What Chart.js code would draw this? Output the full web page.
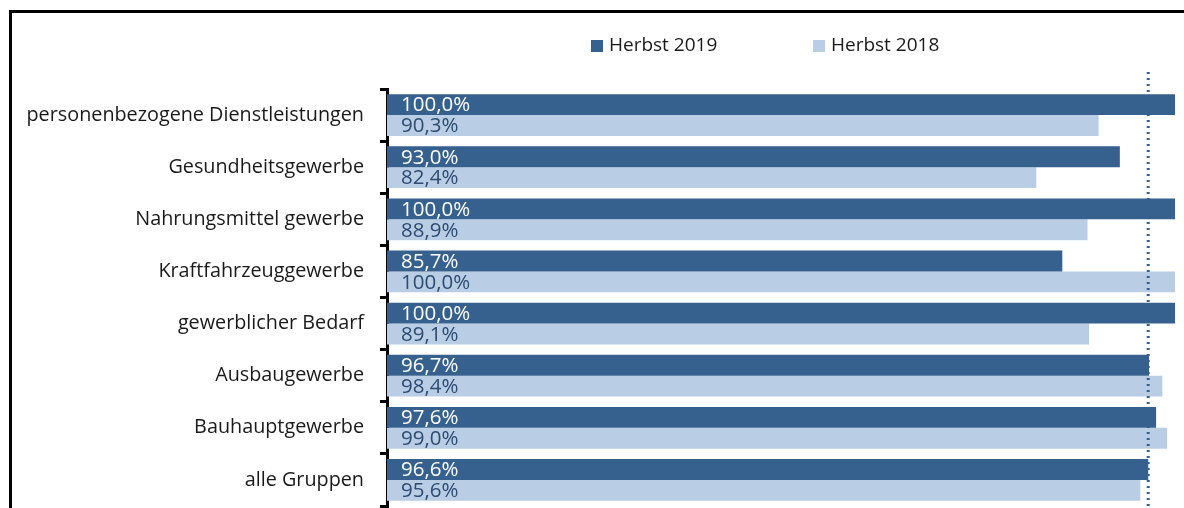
<!DOCTYPE html>
<html>
<head>
<meta charset="utf-8">
<script src="https://cdn.jsdelivr.net/npm/chart.js@4.4.1/dist/chart.umd.min.js"></script>
<style>
html,body{margin:0;padding:0;background:#fff;}
#wrap{position:relative;width:1184px;height:508px;overflow:hidden;}
#frame{position:absolute;left:9px;top:10px;width:1200px;height:520px;border-left:3px solid #000;border-top:3px solid #000;}
#c{position:absolute;left:0;top:0;}
</style>
</head>
<body>
<div id="wrap">
<div id="frame"></div>
<canvas id="c" width="1184" height="508"></canvas>
</div>
<script>
// categories and values
var categories = ['personenbezogene Dienstleistungen','Gesundheitsgewerbe','Nahrungsmittel gewerbe','Kraftfahrzeuggewerbe','gewerblicher Bedarf','Ausbaugewerbe','Bauhauptgewerbe','alle Gruppen'];
var herbst2019 = [100.0, 93.0, 100.0, 85.7, 100.0, 96.7, 97.6, 96.6];
var herbst2018 = [90.3, 82.4, 88.9, 100.0, 89.1, 98.4, 99.0, 95.6];
var seriesNames = ['Herbst 2019', 'Herbst 2018'];
var refLine = herbst2019[7]; // dotted line = alle Gruppen 2019

var darkBlue = '#36618f';
var lightBlue = '#b9cee5';
var font = "'Open Sans', sans-serif";

function fmt(v){ return v.toFixed(1).replace('.', ',') + '%'; }

// value labels inside the bars, at the bar start
var valueLabels = {
  id: 'valueLabels',
  afterDatasetsDraw: function(chart){
    var ctx = chart.ctx;
    ctx.save();
    ctx.font = '20.5px ' + font;
    ctx.textBaseline = 'middle';
    ctx.textAlign = 'left';
    chart.data.datasets.forEach(function(ds, i){
      var meta = chart.getDatasetMeta(i);
      meta.data.forEach(function(bar, j){
        ctx.fillStyle = i == 0 ? '#ffffff' : '#2d4b73';
        ctx.fillText(fmt(ds.data[j]), bar.base + 14, bar.y + 1);
      });
    });
    ctx.restore();
  }
};

// dotted reference line
var dotLine = {
  id: 'dotLine',
  afterDatasetsDraw: function(chart){
    var ctx = chart.ctx;
    var x = chart.scales.x.getPixelForValue(refLine);
    ctx.save();
    ctx.strokeStyle = darkBlue;
    ctx.lineWidth = 3;
    ctx.setLineDash([2, 4]);
    ctx.beginPath();
    ctx.moveTo(x, 72);
    ctx.lineTo(x, chart.height);
    ctx.stroke();
    ctx.restore();
  }
};

// legend drawn by hand so the gap between items matches
var myLegend = {
  id: 'myLegend',
  afterDraw: function(chart){
    var ctx = chart.ctx;
    var xs = [591, 813];
    ctx.save();
    ctx.font = '19px ' + font;
    ctx.textBaseline = 'middle';
    chart.data.datasets.forEach(function(ds, i){
      ctx.fillStyle = ds.backgroundColor;
      ctx.fillRect(xs[i], 40, 12, 12);
      ctx.fillStyle = '#1a1a1a';
      ctx.fillText(ds.label, xs[i] + 18, 46);
    });
    ctx.restore();
  }
};

new Chart(document.getElementById('c'), {
  type: 'bar',
  data: {
    labels: categories,
    datasets: [
      { label: seriesNames[0], data: herbst2019, backgroundColor: darkBlue, categoryPercentage: 0.8, barPercentage: 1.0 },
      { label: seriesNames[1], data: herbst2018, backgroundColor: lightBlue, categoryPercentage: 0.8, barPercentage: 1.0 }
    ]
  },
  options: {
    indexAxis: 'y',
    responsive: false,
    animation: false,
    layout: { padding: { top: 89, right: 9, bottom: 2, left: 0 } },
    plugins: { legend: { display: false }, tooltip: { enabled: false } },
    scales: {
      x: { display: false, min: 0, max: 100 },
      y: {
        offset: true,
        afterFit: function(s){ s.width = 387; s.paddingTop = 0; s.paddingBottom = 0; },
        border: { display: true, color: '#000', width: 3 },
        grid: { display: true, drawOnChartArea: false, drawTicks: true, tickLength: 7, color: '#000', lineWidth: 3, offset: true },
        ticks: { color: '#1a1a1a', font: { family: font, size: 19.8 }, padding: 16 }
      }
    }
  },
  plugins: [valueLabels, dotLine, myLegend]
});
</script>
</body>
</html>
